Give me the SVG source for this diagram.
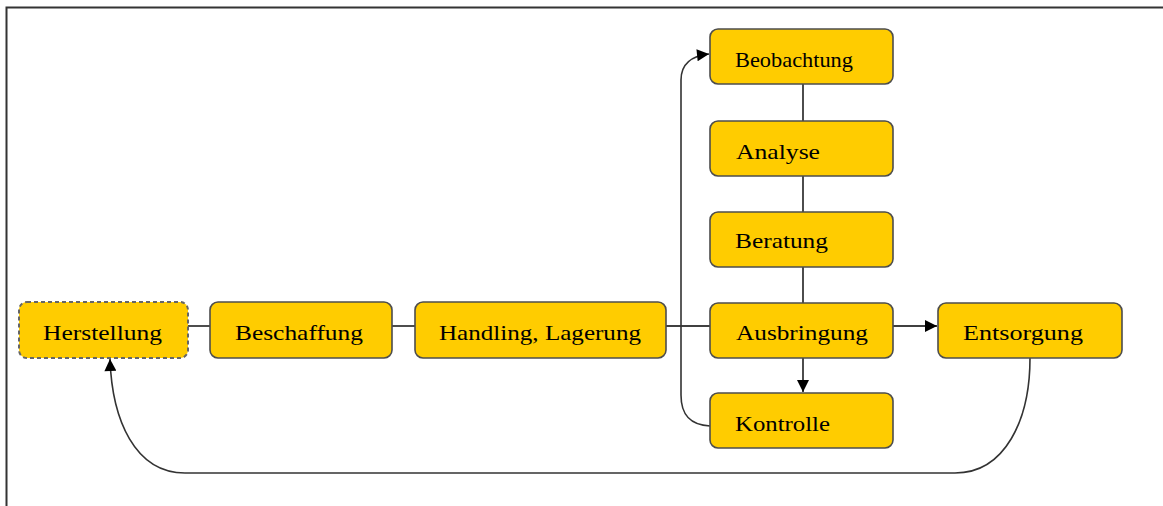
<svg xmlns="http://www.w3.org/2000/svg" width="1163" height="506" viewBox="0 0 1163 506">
<style>
.box{fill:#FFCC00;stroke:#4d4d4d;stroke-width:1.6}
.dash{stroke-dasharray:4 3;stroke:#666;stroke-width:2}
.lbl{font-family:"Liberation Serif",serif;font-size:22px;fill:#000}
.c{fill:none;stroke:#000;stroke-width:1.4}
.cg{fill:none;stroke:#333;stroke-width:1.6}
</style>
<defs>
<marker id="ah" viewBox="0 0 10 10" refX="10" refY="5" markerWidth="13" markerHeight="12" markerUnits="userSpaceOnUse" orient="auto">
<path d="M0,0 L10,5 L0,10 z" fill="#000"/>
</marker>
</defs>
<rect width="1163" height="506" fill="#fff"/>
<path d="M6.5,506 V7.5 H1163" fill="none" stroke="#333" stroke-width="2"/>
<g id="connectors">
<line class="c" x1="188" y1="326" x2="210" y2="326"/>
<line class="c" x1="392" y1="326" x2="415" y2="326"/>
<line class="c" x1="666" y1="326" x2="710" y2="326"/>
<line class="c" x1="803" y1="84" x2="803" y2="121"/>
<line class="c" x1="803" y1="176" x2="803" y2="212"/>
<line class="c" x1="803" y1="267" x2="803" y2="303"/>
<line class="c" x1="803" y1="358" x2="803" y2="392" marker-end="url(#ah)"/>
<line class="c" x1="893" y1="326" x2="937" y2="326" marker-end="url(#ah)"/>
<path class="cg" d="M710,426 C690,425 681,415 681,395 V80 C681,65 690,56 709,54" marker-end="url(#ah)"/>
<path class="cg" d="M1030,358 C1030,420 1005,473 955,473 H185 C135,473 112,420 110,359" marker-end="url(#ah)"/>
</g>
<g id="n-herstellung">
<rect class="box dash" x="19" y="302" width="169" height="56" rx="8"/>
<text class="lbl" x="43" y="340" textLength="119" lengthAdjust="spacingAndGlyphs">Herstellung</text>
</g>
<g id="n-beschaffung">
<rect class="box" x="210" y="302" width="182" height="56" rx="8"/>
<text class="lbl" x="235" y="340" textLength="128" lengthAdjust="spacingAndGlyphs">Beschaffung</text>
</g>
<g id="n-handling">
<rect class="box" x="415" y="302" width="251" height="56" rx="8"/>
<text class="lbl" x="439" y="340" textLength="202" lengthAdjust="spacingAndGlyphs">Handling, Lagerung</text>
</g>
<g id="n-beobachtung">
<rect class="box" x="710" y="29" width="183" height="55" rx="8"/>
<text class="lbl" x="735" y="67" textLength="118" lengthAdjust="spacingAndGlyphs">Beobachtung</text>
</g>
<g id="n-analyse">
<rect class="box" x="710" y="121" width="183" height="55" rx="8"/>
<text class="lbl" x="736" y="159" textLength="84" lengthAdjust="spacingAndGlyphs">Analyse</text>
</g>
<g id="n-beratung">
<rect class="box" x="710" y="212" width="183" height="55" rx="8"/>
<text class="lbl" x="735" y="248" textLength="93" lengthAdjust="spacingAndGlyphs">Beratung</text>
</g>
<g id="n-ausbringung">
<rect class="box" x="710" y="303" width="183" height="55" rx="8"/>
<text class="lbl" x="736" y="340" textLength="132" lengthAdjust="spacingAndGlyphs">Ausbringung</text>
</g>
<g id="n-kontrolle">
<rect class="box" x="710" y="393" width="183" height="55" rx="8"/>
<text class="lbl" x="735" y="431" textLength="95" lengthAdjust="spacingAndGlyphs">Kontrolle</text>
</g>
<g id="n-entsorgung">
<rect class="box" x="938" y="303" width="184" height="55" rx="8"/>
<text class="lbl" x="963" y="340" textLength="120" lengthAdjust="spacingAndGlyphs">Entsorgung</text>
</g>
</svg>
